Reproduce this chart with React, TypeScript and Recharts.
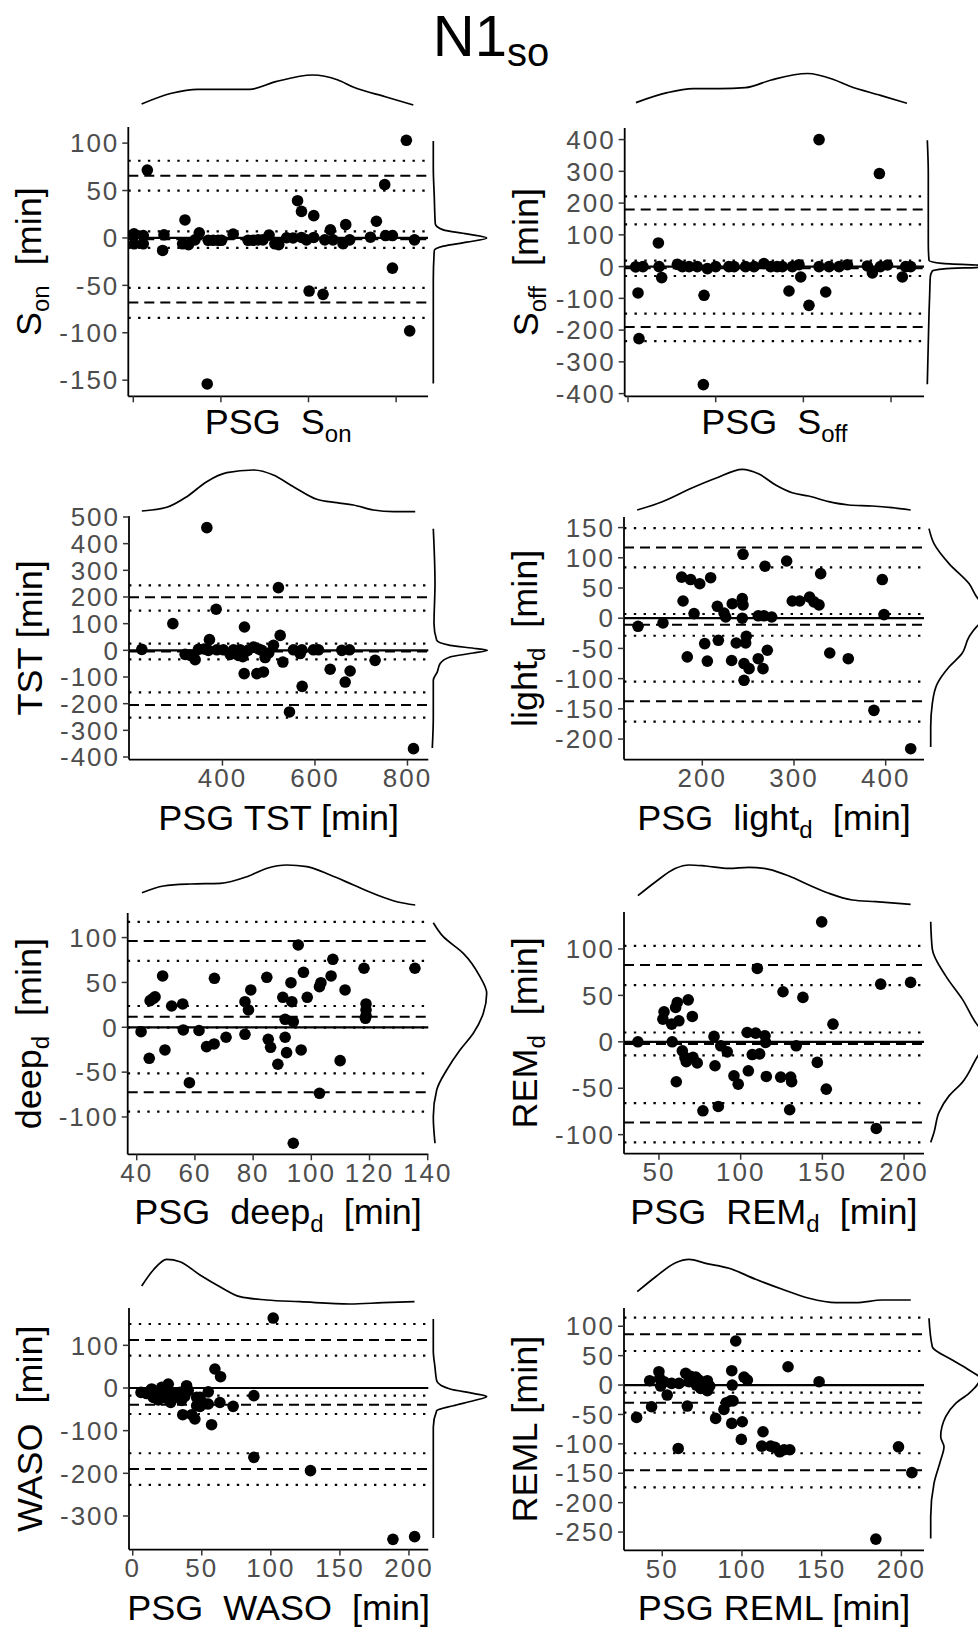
import React from "react";
import { ScatterChart, Scatter, XAxis, YAxis, ReferenceLine } from "recharts";

const FONT = '"Liberation Sans", Arial, Helvetica, sans-serif';
const NB = "\u00a0";

// ---------- S_on ----------
const sOnPoints = [
  [16, 71.6], [0.8, 4.3], [1, -6.2], [11.4, 2.5], [11.4, -6.2], [33.5, -13.2], [35, 3.3], [56.3, -6.2],
  [59, 19], [63, -7], [70.4, -2], [75.3, 5.5], [85.5, -2.5], [91.2, -2.5], [97, -2.5], [100.8, -2.5],
  [84.4, -154], [114, 4], [131, -2.5], [136.8, -2.5], [142.5, -2], [148, -2], [155, 3], [161.6, -6.2],
  [166, -7], [175, 0.2], [182.4, 0], [187.5, 39.3], [192, 28], [192, 0.5], [197.7, -2], [200.7, -56],
  [206, 23.5], [206, 0.5], [216.6, -59.5], [218.6, -2], [225, 8.5], [228, -2], [239.4, -6], [242.5, 14],
  [247, -2], [270.7, 0.8], [277.5, 17.6], [287, 56.2], [288, 2.5], [295.8, 2.5], [295.8, -31.8],
  [311.7, 103], [315.5, -98], [321, -2],
];
const sOnLimits = [-1.5, -10.4, 7, 65.6, 50, 81.4, -68, -84.4, -52.6];
const sOnTopX = [9.8, 44, 74, 103, 133, 163, 205, 234, 252, 288, 320];
const sOnTopDens = [3, 13.7, 17.7, 17.7, 17.7, 25.3, 32, 27, 19.7, 10.3, 2];
const sOnRightY = [102.3, 74.3, 42.8, 14.8, 8.5, 4.3, 0, -4.5, -8.7, -13.2, -44.8, -79.8, -115, -153.4];
const sOnRightDens = [2.3, 2.3, 3.3, 4.3, 12.3, 35.7, 55.7, 35.7, 12.3, 3.3, 2.3, 2.3, 2.3, 2.3];
const sOnXTicks = [0, 100, 200, 300];
const sOnYTicks = [-150, -100, -50, 0, 50, 100];

// ---------- S_off ----------
const sOffPoints = [
  [11.4, -83], [12.5, -227], [8.7, -1], [17, 0], [34.6, 74.4], [35.4, 0], [38.4, -34.6], [56.3, 7],
  [62, 0], [69.6, 0], [79, 0], [86.7, -90.4], [85.9, -371.7], [90.5, -6.3], [100, 0], [115, 0],
  [121, 0], [134, 0], [143.7, 0], [155, 9.4], [162.7, 0], [170, 0], [176, 0], [183.6, -76.8],
  [187.4, 0], [195, 6], [197, -32.7], [206.4, -122], [217.9, 400], [217.9, 0], [225.5, -80],
  [229.3, 0], [240.7, 0], [250.2, 6], [273, 2], [278.7, -20], [286.7, 293], [287.8, 0], [296, 5],
  [312.9, -32.7], [316.7, 0], [322.4, 0],
];
const sOffLimits = [-5, -29.6, 19, 179.5, 133, 221, -190, -235, -148];
const sOffTopX = [8.7, 44.4, 74, 104, 133.6, 163, 204.5, 234, 252, 287.6, 317.8];
const sOffTopDens = [4.4, 14.3, 18.3, 18.3, 19.3, 27, 33.5, 27.5, 21, 11.6, 3.7];
const sOffRightY = [397.8, 293, 72.4, 19.8, 10, 5, 1, -3, -7, -13.9, -32.8, -85, -148, -370.7];
const sOffRightDens = [1.3, 2.3, 2.3, 3, 16, 50, 84, 50, 18, 6.3, 4.3, 3.7, 3, 1.3];
const sOffXTicks = [0, 100, 200, 300];
const sOffYTicks = [-400, -300, -200, -100, 0, 100, 200, 300, 400];

// ---------- TST ----------
const tstPoints = [
  [225.7, 3.7], [292.8, 100], [319.3, -15], [330, -18], [341, -35], [348, 3.7], [360, 5], [366.3, 460],
  [371.9, 40], [369.7, 0], [386.4, 154], [388, 2], [402, 2], [416.6, -15], [423.8, 2], [434.6, -19],
  [438.3, 2], [447.6, 87.5], [444, -24], [447, -87.5], [455, 0], [467, 12], [474.4, -87.5], [478, 5],
  [488.6, -81], [485, 0], [492.3, -27], [500, -10], [510.3, 18.7], [521, 235], [524.8, 56], [530.6, -44],
  [553.5, 2], [568, -12], [572.3, -135], [571.7, 2], [544.9, -231], [596.8, 2], [607.6, 2], [632.9, -71],
  [658, 0], [665.3, -119], [674.6, 2], [676, -77.5], [730, -37.5], [813, -368.6],
];
const tstLimits = [-4, -33.7, 25, 198.7, 148.8, 243.7, -205, -252, -157.5];
const tstTopX = [225.7, 279.8, 323, 366, 409.5, 467, 510, 553.5, 604, 647, 683, 726.5, 770, 816.7];
const tstTopDens = [3, 6.7, 17.3, 32.3, 41.3, 44, 39, 27.3, 14.7, 11.3, 9, 4, 2.3, 2.3];
const tstRightY = [456, 250, 100, 37.5, 18.7, 6.2, 0, -10, -25, -50, -81, -112, -250, -366];
const tstRightDens = [2.3, 4, 3, 5.7, 19, 45.7, 56.3, 42.3, 19, 9, 6.3, 2.3, 2.3, 1.3];
const tstXTicks = [400, 600, 800];
const tstYTicks = [-400, -300, -200, -100, 0, 100, 200, 300, 400, 500];

// ---------- light_d ----------
const lightPoints = [
  [129.9, -13.4], [157.1, -7.9], [177.5, 68], [179, 28.5], [183.6, -64], [187.3, 64], [191, 7.6],
  [197.2, 57], [202.6, -42], [205.5, -71], [209.1, 67], [216.4, 19.7], [217.5, -36.6], [223.7, 8.6],
  [225.5, 2], [232, -70], [232.7, 24], [237, -41], [243.6, 32.4], [244.4, 105.8], [244.4, 22],
  [243.6, 0], [245.5, -75], [245.5, -102.8], [247.3, -41], [248, -30], [251, -83.5], [261, -67],
  [261, 4], [266.2, -83.5], [267.3, 4], [268.4, 86], [270.9, -53], [275.7, 2], [292, 94.7],
  [298.1, 28.5], [306.2, 28.5], [317, 35], [321.8, 27], [327.3, 22], [329.1, 73.8], [339, -57.6],
  [359.2, -67], [387.2, -152.5], [396.3, 64], [398.2, 6], [427.3, -216],
];
const lightLimits = [-11, -29, 7, 117, 84, 149, -137.6, -171, -105];
const lightTopX = [129, 156.4, 185.5, 214.6, 243.6, 261.8, 280, 298, 316, 338, 359.8, 385.4, 407, 427.3];
const lightTopDens = [2, 10.3, 22.7, 33.7, 42.7, 38, 27, 19.3, 16, 10.3, 7, 6, 4.3, 2];
const lightRightY = [148.3, 123.5, 90.4, 57.3, 32.5, 7.6, -11.8, -31, -58.6, -80.8, -108.3, -141.4, -180, -213];
const lightRightDens = [3, 8, 23, 43, 52, 69, 52, 43, 36, 23, 11.3, 6.3, 4.7, 4.7];
const lightXTicks = [200, 300, 400];
const lightYTicks = [-200, -150, -100, -50, 0, 50, 100, 150];

// ---------- deep_d ----------
const deepPoints = [
  [41.5, -4.9], [44.6, 29.7], [45.7, 32.3], [46.3, 34], [44.3, -34.6], [48.9, 57.2], [49.7, -25.3],
  [52, 23.7], [55.8, 26], [56, -3], [58.1, -61.8], [61.4, -3.6], [64, -21.6], [66.6, -18.6],
  [66.7, 54.6], [70.7, -11.1], [77.2, 28.5], [77.2, -7.8], [78.4, 19.3], [79.2, 41.6], [84.7, 55.7],
  [85.2, -13.4], [86, -22.3], [88.5, -41.2], [90.2, 33.4], [91, 8.9], [91, -11.1], [91.5, -28.3],
  [93, 49.7], [93.3, 28.5], [93.8, 6.2], [93.8, -129.3], [95.5, 91.7], [96.5, -25.3], [97.3, 61.3],
  [98.6, 33.4], [102.8, 45.3], [103.3, 49.7], [102.8, -73.6], [106.8, 57.2], [107.4, 75.8],
  [111.6, 41.6], [109.9, -37.2], [118.1, 65.8], [118.8, 26], [118.8, 19.3], [118.8, 13], [118.6, 10],
  [135.6, 65.8],
];
const deepLimits = [11.8, -0.3, 23.7, 96.2, 74, 117.4, -72.5, -94, -51.3];
const deepTopX = [41.7, 49.1, 58.3, 68.6, 77.8, 84.7, 91.5, 98.4, 106.4, 114.4, 122.5, 129.3, 135.6];
const deepTopDens = [15.3, 22, 24, 24.7, 31.3, 39.7, 43, 41.3, 33, 23, 13, 6.3, 3];
const deepRightY = [116.6, 101, 82.5, 56.4, 37.9, 15.6, -6.7, -25.3, -47.6, -69.9, -99.7, -129.3];
const deepRightDens = [2.3, 12.3, 32.3, 49, 55.7, 52.3, 42.3, 29, 15.7, 5.7, 2.3, 4];
const deepXTicks = [40, 60, 80, 100, 120, 140];
const deepYTicks = [-100, -50, 0, 50, 100];

// ---------- REM_d ----------
const remPoints = [
  [37.1, 0], [53.1, 32.3], [52.4, 24.4], [57.8, 19], [58.1, 0], [60.2, 37], [61.2, 42.4], [62.2, 22.6],
  [60.6, -43], [64.3, -9.7], [65.9, -16.8], [66.7, -21.5], [67.9, 45.2], [70.4, 27.3], [70.8, -16.8],
  [73.4, -22.8], [76.9, -74.3], [83.7, 5.8], [84.3, -25.8], [86.3, -69.6], [87.8, -4.3], [91.8, -10.8],
  [95.9, -36.6], [98.5, -45.6], [104, 10.1], [104.7, -31.2], [107.1, -13.7], [109.2, 9.4], [110.2, 79],
  [111.6, -13], [114.9, 6.5], [115.3, -0.7], [115.7, -37.3], [124.5, -38], [125.9, 53.9], [130.6, -38],
  [131.2, -43], [130, -73.2], [134, -4.3], [138.1, 47.8], [146.9, -22.2], [149.6, 129.2], [152.4, -51],
  [156.5, 19], [183, -93.3], [185.7, 62.1], [204, 64],
];
const remLimits = [-2.3, -14.7, 10, 82.6, 61, 103.4, -86.8, -108.3, -66];
const remTopX = [37.1, 48, 60.2, 68.4, 78.6, 92.8, 105, 117.3, 129.6, 141.8, 154, 168.3, 182.6, 204];
const remTopDens = [11.3, 25.3, 38.7, 42, 41, 38.7, 39.7, 37.7, 31, 22, 13.7, 7, 5.3, 2.7];
const remRightY = [129.2, 99.8, 71, 46, 17.2, 2.9, -15, -43.7, -58.2, -76, -97.6, -108.3];
const remRightDens = [4.7, 6.3, 19.7, 36.3, 52, 64, 52, 36.3, 23, 13, 8, 4.7];
const remXTicks = [50, 100, 150, 200];
const remYTicks = [-100, -50, 0, 50, 100];

// ---------- WASO ----------
const wasoPoints = [
  [6, -10.3], [10.1, -13], [12.5, -7], [13.7, -2.3], [14.9, -22], [17.4, -10.3], [18.5, -28], [20, -13],
  [21, 1.4], [22.1, -16], [24, -24], [25.7, -7], [25.7, 9], [26.5, -20], [27.5, -33.7], [29.4, -13],
  [31.8, -20], [34.2, -10], [35.4, -29], [36.2, -62.6], [37.6, -20], [39, 5.4], [40.2, -6],
  [42.7, -62.6], [45, -72.7], [46.3, -22], [46.3, -41.5], [48.7, -43], [48.7, -22], [52.3, -37],
  [54.7, -9], [54.7, -37.5], [57.1, -86], [59.5, 44.5], [63.6, 26.5], [63.1, -34], [72.7, -43],
  [87.7, -18], [87.7, -162.6], [101.7, 164], [128.7, -193.8], [188.4, -354.8], [204.1, -348.5],
];
const wasoLimits = [-39, -61, -18, 112.5, 75.7, 150, -190, -227, -153];
const wasoTopX = [6.5, 14.9, 24.6, 34.2, 48.7, 63.1, 77.6, 96.9, 121, 157.2, 181.2, 204];
const wasoTopDens = [20, 36, 46.7, 44.3, 31, 19.3, 9.3, 6, 4.3, 2, 3.3, 4.3];
const wasoRightY = [161.7, 87.4, 48.3, 17.1, -2.3, -12.7, -19.7, -29.8, -41.5, -53.2, -92.3, -225, -351.5];
const wasoRightDens = [2.3, 2.3, 4, 5.7, 19, 42.3, 55.7, 42.3, 22.3, 5.7, 2.3, 2.3, 2.3];
const wasoXTicks = [0, 50, 100, 150, 200];
const wasoYTicks = [-300, -200, -100, 0, 100];

// ---------- REML ----------
const remlPoints = [
  [33.9, -55], [42.1, 7.4], [43.3, -36.9], [47.9, 22.7], [48.4, 11.3], [49, -1.7], [51.1, 5.7],
  [53.1, -17], [55.9, 2.8], [60.5, 2.8], [60, -107.8], [64.7, 19.9], [65.7, -35.7], [66.8, 5.7],
  [67.8, 14.7], [71, 13.6], [71.4, 0], [73, 8.5], [74.1, -5.7], [76.2, 2.8], [78.3, 7.4], [78.3, -9.6],
  [79.8, -1.7], [83.5, -56.7], [88.7, -41.4], [90.2, -30], [92.9, -26.7], [93.6, 24.4], [93.9, 0],
  [93.6, -65.2], [94.4, -27], [96.1, 74.9], [99.6, -92.4], [100.2, -62.4], [101.3, 13.6], [103.4, 8.5],
  [113.2, -79.4], [112.4, -103.8], [118, -103.8], [120.7, -106], [123.7, -113.5], [126.4, -110],
  [130, -110], [128.9, 31.1], [148.4, 5.7], [184, -262], [198.2, -105], [206.6, -149],
];
const remlLimits = [-30, -47, -13, 86.3, 57.9, 114.5, -145, -174, -116];
const remlTopX = [34.3, 45.9, 58.4, 66.8, 77.2, 91.9, 108.6, 125.3, 142.1, 158.9, 171.4, 188.1, 205.9];
const remlTopDens = [13.3, 28.3, 42.3, 45.7, 41.7, 36.7, 25.7, 15.7, 6.7, 2.3, 2.3, 5, 5];
const remlRightY = [113.5, 65.2, 42.5, 25.5, 11.4, -14.1, -31.1, -53.9, -88, -105, -127.6, -167.3, -224, -260.8];
const remlRightDens = [3, 6.3, 26.3, 43, 54, 43, 29.7, 19.7, 14.7, 18, 14.7, 8, 4.7, 4.7];
const remlXTicks = [50, 100, 150, 200];
const remlYTicks = [-250, -200, -150, -100, -50, 0, 50, 100];

type Title = { main: string; sub?: string; after?: string };

type PanelSpec = {
  col: number;
  box: [number, number, number, number];
  xDomain: [number, number];
  yDomain: [number, number];
  xTicks: number[];
  yTicks: number[];
  xLabels: boolean;
  points: number[][];
  limits: number[];
  topX: number[];
  topDens: number[];
  topBase: number;
  rightY: number[];
  rightDens: number[];
  rightBase: number;
  yTitle: Title;
  xTitle: Title;
  xGap: number;
};

const MIN = `${NB}${NB}[min]`;

const panels: PanelSpec[] = [
  {
    col: 0, box: [128.3, 126.7, 428, 396], xDomain: [-5.7, 336.4], yDomain: [-167, 117],
    xTicks: sOnXTicks, yTicks: sOnYTicks, xLabels: false, points: sOnPoints, limits: sOnLimits,
    topX: sOnTopX, topDens: sOnTopDens, topBase: 107, rightY: sOnRightY, rightDens: sOnRightDens, rightBase: 431,
    yTitle: { main: "S", sub: "on", after: MIN }, xTitle: { main: `PSG${NB}${NB}S`, sub: "on" }, xGap: 38,
  },
  {
    col: 1, box: [624.7, 127.7, 924, 396], xDomain: [-3.8, 337.6], yDomain: [-408.5, 436.5],
    xTicks: sOffXTicks, yTicks: sOffYTicks, xLabels: false, points: sOffPoints, limits: sOffLimits,
    topX: sOffTopX, topDens: sOffTopDens, topBase: 107, rightY: sOffRightY, rightDens: sOffRightDens, rightBase: 926,
    yTitle: { main: "S", sub: "off", after: MIN }, xTitle: { main: `PSG${NB}${NB}S`, sub: "off" }, xGap: 38,
  },
  {
    col: 0, box: [129, 515.7, 428.3, 759.3], xDomain: [198, 845], yDomain: [-409.7, 503.7],
    xTicks: tstXTicks, yTicks: tstYTicks, xLabels: true, points: tstPoints, limits: tstLimits,
    topX: tstTopX, topDens: tstTopDens, topBase: 514, rightY: tstRightY, rightDens: tstRightDens, rightBase: 431,
    yTitle: { main: "TST [min]" }, xTitle: { main: "PSG TST [min]" }, xGap: 70,
  },
  {
    col: 1, box: [624, 516.7, 924, 759.3], xDomain: [114.6, 441.8], yDomain: [-234, 167.5],
    xTicks: lightXTicks, yTicks: lightYTicks, xLabels: true, points: lightPoints, limits: lightLimits,
    topX: lightTopX, topDens: lightTopDens, topBase: 512, rightY: lightRightY, rightDens: lightRightDens, rightBase: 926,
    yTitle: { main: "light", sub: "d", after: MIN }, xTitle: { main: `PSG${NB}${NB}light`, sub: "d", after: MIN }, xGap: 70,
  },
  {
    col: 0, box: [127.7, 912.7, 428.3, 1154], xDomain: [36.9, 140.2], yDomain: [-141.6, 127.4],
    xTicks: deepXTicks, yTicks: deepYTicks, xLabels: true, points: deepPoints, limits: deepLimits,
    topX: deepTopX, topDens: deepTopDens, topBase: 908, rightY: deepRightY, rightDens: deepRightDens, rightBase: 431,
    yTitle: { main: "deep", sub: "d", after: MIN }, xTitle: { main: `PSG${NB}${NB}deep`, sub: "d", after: MIN }, xGap: 70,
  },
  {
    col: 1, box: [624, 912.3, 924, 1154], xDomain: [28.6, 212.2], yDomain: [-120.5, 139.8],
    xTicks: remXTicks, yTicks: remYTicks, xLabels: true, points: remPoints, limits: remLimits,
    topX: remTopX, topDens: remTopDens, topBase: 907, rightY: remRightY, rightDens: remRightDens, rightBase: 926,
    yTitle: { main: "REM", sub: "d", after: MIN }, xTitle: { main: `PSG${NB}${NB}REM`, sub: "d", after: MIN }, xGap: 70,
  },
  {
    col: 0, box: [129, 1307.7, 428.3, 1549.3], xDomain: [-2.7, 214], yDomain: [-378.8, 187.5],
    xTicks: wasoXTicks, yTicks: wasoYTicks, xLabels: true, points: wasoPoints, limits: wasoLimits,
    topX: wasoTopX, topDens: wasoTopDens, topBase: 1306, rightY: wasoRightY, rightDens: wasoRightDens, rightBase: 431,
    yTitle: { main: `WASO${MIN}` }, xTitle: { main: `PSG${NB}${NB}WASO${MIN}` }, xGap: 70,
  },
  {
    col: 1, box: [624, 1307.7, 924, 1550], xDomain: [26, 214.2], yDomain: [-281, 131],
    xTicks: remlXTicks, yTicks: remlYTicks, xLabels: true, points: remlPoints, limits: remlLimits,
    topX: remlTopX, topDens: remlTopDens, topBase: 1305, rightY: remlRightY, rightDens: remlRightDens, rightBase: 926,
    yTitle: { main: "REML [min]" }, xTitle: { main: "PSG REML [min]" }, xGap: 70,
  },
];

function titleSpans(t: Title) {
  return (
    <>
      {t.main}
      {t.sub && (
        <tspan fontSize={24} dy={8}>
          {t.sub}
        </tspan>
      )}
      {t.after && <tspan dy={t.sub ? -8 : 0}>{t.after}</tspan>}
    </>
  );
}

const hidden = () => <g />;
const dot = (p: any) => <circle cx={p.cx} cy={p.cy} r={5.8} fill="#000" />;

const tickStyle = { fontSize: 26, fill: "#4D4D4D", fontFamily: FONT, letterSpacing: 2 };
const MT = 20;

function Panel({ spec }: { spec: PanelSpec }) {
  const colX = spec.col * 489;
  const [L, T, R, B] = spec.box;
  const plotH = B - T;
  const axisW = L - colX;
  const chartH = plotH + MT + 100;
  const pts = spec.points.map(([x, y]) => ({ x, y }));
  const top = spec.topX.map((x, i) => ({ x, d: spec.topDens[i] }));
  const right = spec.rightY.map((y, i) => ({ y, d: spec.rightDens[i] }));
  const lim = spec.limits;

  const yLabel = (props: any) => {
    const vb = props.viewBox;
    const x = vb.x + vb.width - 87;
    const cy = vb.y + vb.height / 2;
    return (
      <text x={x} y={cy} transform={`rotate(-90 ${x} ${cy})`} textAnchor="middle" fontSize={36} fill="#000" fontFamily={FONT}>
        {titleSpans(spec.yTitle)}
      </text>
    );
  };
  const xLabel = (props: any) => {
    const vb = props.viewBox;
    return (
      <text x={vb.x + vb.width / 2} y={vb.y + spec.xGap} textAnchor="middle" fontSize={36} fill="#000" fontFamily={FONT}>
        {titleSpans(spec.xTitle)}
      </text>
    );
  };

  const dashed = [lim[0], lim[3], lim[6]];
  const dotted = [lim[1], lim[2], lim[4], lim[5], lim[7], lim[8]];

  return (
    <>
      <div style={{ position: "absolute", left: colX, top: T - MT }}>
        <ScatterChart width={489} height={chartH} margin={{ top: MT, right: colX + 489 - R, bottom: 0, left: 0 }}>
          <XAxis
            type="number"
            dataKey="x"
            domain={spec.xDomain}
            ticks={spec.xTicks}
            interval={0}
            height={100}
            tickSize={6}
            tickMargin={3}
            tickFormatter={spec.xLabels ? undefined : () => ""}
            tick={tickStyle}
            axisLine={{ stroke: "#000", strokeWidth: 1.8 }}
            tickLine={{ stroke: "#333", strokeWidth: 1.5 }}
            label={xLabel}
          />
          <YAxis
            type="number"
            dataKey="y"
            domain={spec.yDomain}
            ticks={spec.yTicks}
            interval={0}
            width={axisW}
            tickSize={6}
            tickMargin={3}
            tick={tickStyle}
            axisLine={{ stroke: "#000", strokeWidth: 1.8 }}
            tickLine={{ stroke: "#333", strokeWidth: 1.5 }}
            label={yLabel}
          />
          <ReferenceLine y={0} stroke="#000" strokeWidth={2.2} />
          {dashed.map((v, i) => (
            <ReferenceLine key={`da${i}`} y={v} stroke="#000" strokeWidth={2} strokeDasharray="10 6" />
          ))}
          {dotted.map((v, i) => (
            <ReferenceLine key={`do${i}`} y={v} stroke="#000" strokeWidth={2.2} strokeDasharray="2.4 7.4" />
          ))}
          <Scatter data={pts} fill="#000" shape={dot} isAnimationActive={false} />
        </ScatterChart>
      </div>
      <div style={{ position: "absolute", left: L, top: spec.topBase - 50 }}>
        <ScatterChart width={R - L} height={50} margin={{ top: 0, right: 0, bottom: 0, left: 0 }}>
          <XAxis type="number" dataKey="x" domain={spec.xDomain} hide />
          <YAxis type="number" dataKey="d" domain={[0, 50]} hide />
          <Scatter
            data={top}
            line={{ stroke: "#000", strokeWidth: 1.7 }}
            lineJointType="monotoneX"
            shape={hidden}
            isAnimationActive={false}
          />
        </ScatterChart>
      </div>
      <div style={{ position: "absolute", left: spec.rightBase, top: T }}>
        <ScatterChart width={100} height={plotH} margin={{ top: 0, right: 0, bottom: 0, left: 0 }}>
          <XAxis type="number" dataKey="d" domain={[0, 100]} hide />
          <YAxis type="number" dataKey="y" domain={spec.yDomain} hide />
          <Scatter
            data={right}
            line={{ stroke: "#000", strokeWidth: 1.7 }}
            lineJointType="monotoneY"
            shape={hidden}
            isAnimationActive={false}
          />
        </ScatterChart>
      </div>
    </>
  );
}

export default function App() {
  return (
    <div
      style={{
        position: "absolute",
        left: 0,
        top: 0,
        width: 978,
        height: 1632,
        overflow: "hidden",
        background: "#fff",
        fontFamily: FONT,
      }}
    >
      <svg width={978} height={90} style={{ position: "absolute", left: 0, top: 0 }}>
        <text x={491} y={56} textAnchor="middle" fontSize={58} fill="#000" fontFamily={FONT}>
          N1
          <tspan fontSize={40} dy={10}>
            so
          </tspan>
        </text>
      </svg>
      {panels.map((p, i) => (
        <Panel key={i} spec={p} />
      ))}
    </div>
  );
}
